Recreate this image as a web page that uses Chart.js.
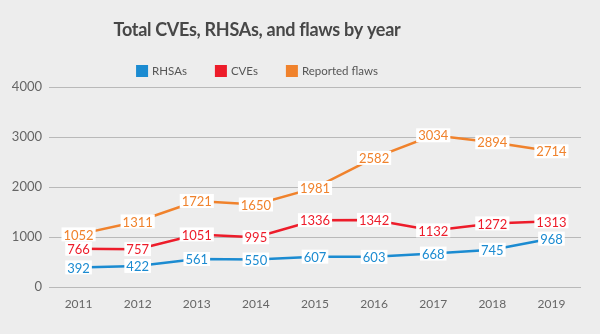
<!DOCTYPE html>
<html lang="en">
<head>
    <meta charset="UTF-8">
    <title>Total CVEs, RHSAs, and flaws by year</title>
    <script src="https://cdn.jsdelivr.net/npm/chart.js"></script>
    <style>
        body { margin: 0; background: #ededed; }
        #wrap { width: 600px; height: 334px; position: relative; }
    </style>
</head>
<body>
    <div id="wrap"><canvas id="cveChart"></canvas></div>
    <script>
        // data
        const years = ['2011', '2012', '2013', '2014', '2015', '2016', '2017', '2018', '2019'];
        const rhsas = [392, 422, 561, 550, 607, 603, 668, 745, 968];
        const cves = [766, 757, 1051, 995, 1336, 1342, 1132, 1272, 1313];
        const flaws = [1052, 1311, 1721, 1650, 1981, 2582, 3034, 2894, 2714];
        const seriesNames = ['RHSAs', 'CVEs', 'Reported flaws'];
        const yTicks = [0, 1000, 2000, 3000, 4000];
        const chartTitle = 'Total CVEs, RHSAs, and flaws by year';

        const FONT = 'Lato, "Open Sans", sans-serif';

        // white boxed value labels sitting on each point
        const valueLabels = {
            id: 'valueLabels',
            afterDatasetsDraw(chart) {
                const ctx = chart.ctx;
                ctx.save();
                ctx.font = '13px ' + FONT;
                ctx.textAlign = 'center';
                ctx.textBaseline = 'middle';
                chart.data.datasets.forEach((ds, i) => {
                    const meta = chart.getDatasetMeta(i);
                    meta.data.forEach((pt, j) => {
                        const txt = String(ds.data[j]);
                        const w = ctx.measureText(txt).width;
                        ctx.fillStyle = '#ffffff';
                        ctx.fillRect(pt.x - w / 2 - 2, pt.y - 7, w + 4, 14);
                        ctx.fillStyle = ds.borderColor;
                        ctx.fillText(txt, pt.x, pt.y + 1);
                    });
                });
                ctx.restore();
            }
        };

        // title + legend, centred a bit left of the canvas middle like the original
        const header = {
            id: 'header',
            afterDraw(chart) {
                const ctx = chart.ctx;
                const cx = 257;
                ctx.save();
                ctx.fillStyle = '#474747';
                ctx.font = 'bold 18px ' + FONT;
                ctx.letterSpacing = '-0.3px';
                ctx.textAlign = 'center';
                ctx.textBaseline = 'alphabetic';
                ctx.fillText(chartTitle, cx, 36);
                ctx.letterSpacing = '0px';

                ctx.font = '11.5px ' + FONT;
                ctx.textAlign = 'left';
                ctx.textBaseline = 'middle';
                const box = 12, gap = 4, between = 28;
                const widths = chart.data.datasets.map(ds => box + gap + ctx.measureText(ds.label).width);
                const total = widths.reduce((a, b) => a + b, 0) + between * (widths.length - 1);
                let x = cx - total / 2;
                chart.data.datasets.forEach((ds, i) => {
                    ctx.fillStyle = ds.borderColor;
                    ctx.fillRect(x, 65, box, box);
                    ctx.fillStyle = '#555555';
                    ctx.fillText(ds.label, x + box + gap, 71.5);
                    x += widths[i] + between;
                });
                ctx.restore();
            }
        };

        const colors = ['#1b8bd1', '#ed1c2a', '#f0822c'];
        const series = [rhsas, cves, flaws];

        new Chart(document.getElementById('cveChart'), {
            type: 'line',
            data: {
                labels: years,
                datasets: series.map((d, i) => ({
                    label: seriesNames[i],
                    data: d,
                    borderColor: colors[i],
                    backgroundColor: colors[i],
                    borderWidth: 2.5,
                    pointRadius: 0,
                    tension: 0,
                    fill: false
                }))
            },
            options: {
                responsive: true,
                maintainAspectRatio: false,
                animation: false,
                layout: { padding: { top: 87, right: 19, left: 0, bottom: 0 } },
                plugins: {
                    legend: { display: false },
                    title: { display: false },
                    tooltip: { enabled: false }
                },
                scales: {
                    x: {
                        offset: true,
                        grid: { display: false },
                        border: { display: false },
                        ticks: { color: '#666', font: { family: FONT, size: 12 }, padding: 2 },
                        afterFit(s) { s.height = 47; }
                    },
                    y: {
                        min: 0,
                        max: 4000,
                        afterBuildTicks(s) { s.ticks = yTicks.map(v => ({ value: v })); },
                        grid: { color: '#b9b9b9', drawTicks: false },
                        border: { display: false },
                        ticks: {
                            color: '#666',
                            font: { family: FONT, size: 13 },
                            padding: 7,
                            callback: v => String(v)
                        },
                        afterFit(s) { s.width = 49; }
                    }
                }
            },
            plugins: [valueLabels, header]
        });
    </script>
</body>
</html>
